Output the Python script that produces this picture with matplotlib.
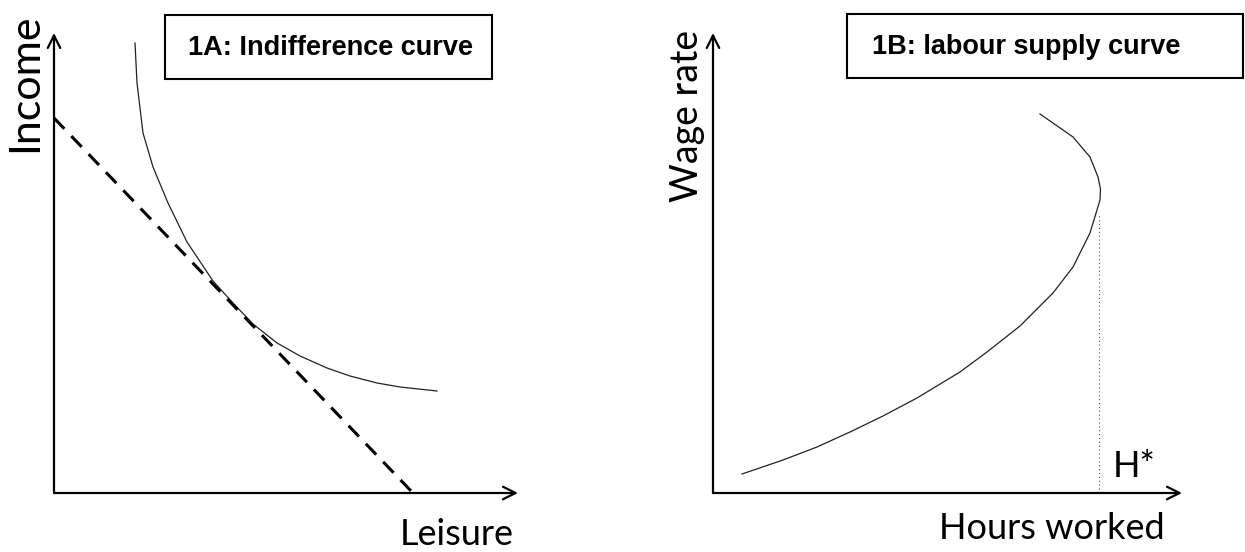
import matplotlib
matplotlib.use("Agg")
import matplotlib.pyplot as plt
import matplotlib.patches as patches
import numpy as np

W, H = 1245, 552

# 1A: indifference curve (leisure, income)
ic_leisure = [8.1, 8.3, 8.9, 9.9, 11.4, 13.3, 15.9, 17.9, 19.9, 22.3, 24.6, 27.3, 29.6, 32.3, 34.6, 38.3]
ic_income = [45.0, 41.0, 36.0, 32.6, 29.0, 25.1, 21.2, 19.0, 16.9, 15.0, 13.7, 12.5, 11.7, 11.0, 10.6, 10.2]
budget_leisure = [0.0, 35.9]
budget_income = [37.5, 0.0]

# 1B: backward bending labour supply curve (hours, wage)
ls_hours = [2.9, 7.0, 10.4, 13.7, 17.0, 20.4, 24.7, 27.4, 30.7, 34.0, 36.0, 37.7,
            38.7, 38.75, 38.5, 37.7, 36.0, 32.7]
ls_wage = [1.9, 3.3, 4.6, 6.1, 7.7, 9.5, 12.1, 14.1, 16.7, 20.0, 22.6, 26.0,
           29.3, 30.4, 31.6, 33.6, 35.6, 37.9]
h_star = 38.6
h_star_top = 27.8

label_font = ['Lato', 'DejaVu Sans']


def px_axes(fig, x0, x1, y_top, y_bot):
    return fig.add_axes([x0 / W, 1 - y_bot / H, (x1 - x0) / W, (y_bot - y_top) / H])


def fx(x):
    return x / W


def fy(y):
    return 1 - y / H


def draw_axes_arrows(ax, xmax, ymax):
    arr = dict(arrowstyle='->,head_length=0.9,head_width=0.45', lw=1.6, color='black',
               shrinkA=0, shrinkB=0)
    ax.annotate('', xy=(xmax, 0), xytext=(0, 0), arrowprops=arr, annotation_clip=False)
    ax.annotate('', xy=(0, ymax), xytext=(0, 0), arrowprops=arr, annotation_clip=False)


fig = plt.figure(figsize=(W / 100, H / 100), dpi=100)

# left panel
ax1 = px_axes(fig, 54, 518, 33, 493)
ax1.set_xlim(0, 46.4)
ax1.set_ylim(0, 46)
ax1.axis('off')
draw_axes_arrows(ax1, 46.4, 46)
ax1.plot(ic_leisure, ic_income, color='#222222', lw=0.9, clip_on=False,
         solid_joinstyle='round')
ax1.plot(budget_leisure, budget_income, color='black', lw=2.2,
         linestyle=(0, (4.9, 3.3)), clip_on=False)

# right panel
ax2 = px_axes(fig, 713, 1182, 33, 493)
ax2.set_xlim(0, 46.9)
ax2.set_ylim(0, 46)
ax2.axis('off')
draw_axes_arrows(ax2, 46.9, 46)
ax2.plot(ls_hours, ls_wage, color='#222222', lw=0.9, clip_on=False,
         solid_joinstyle='round')
ax2.plot([h_star, h_star], [0, h_star_top], color='#555555', lw=0.8,
         linestyle=(0, (1, 2.5)))

# axis labels
fig.text(fx(37), fy(83), 'Income', rotation=90, ha='center', va='baseline',
         fontsize=31, family=label_font, rotation_mode='anchor')
fig.text(fx(457), fy(545), 'Leisure', ha='center', va='baseline',
         fontsize=26, family=label_font)
fig.text(fx(698), fy(116), 'Wage rate', rotation=90, ha='center', va='baseline',
         fontsize=27, family=label_font, rotation_mode='anchor')
fig.text(fx(1052), fy(539), 'Hours worked', ha='center', va='baseline',
         fontsize=26, family=label_font)
fig.text(fx(1113), fy(477), 'H*', ha='left', va='baseline',
         fontsize=26, family=label_font)

# title boxes
for (x0, x1, y0, y1) in [(165, 492, 15, 79), (847, 1243, 14, 78)]:
    fig.add_artist(patches.Rectangle((fx(x0), fy(y1)), fx(x1 - x0), (y1 - y0) / H,
                                     transform=fig.transFigure, fill=False,
                                     edgecolor='black', lw=1.5))
fig.text(fx(188), fy(48), '1A: Indifference curve', ha='left', va='center',
         fontsize=19.5, fontweight='bold', family='Liberation Sans')
fig.text(fx(872), fy(47), '1B: labour supply curve', ha='left', va='center',
         fontsize=19.5, fontweight='bold', family='Liberation Sans')

fig.savefig('out.png', dpi=100)
